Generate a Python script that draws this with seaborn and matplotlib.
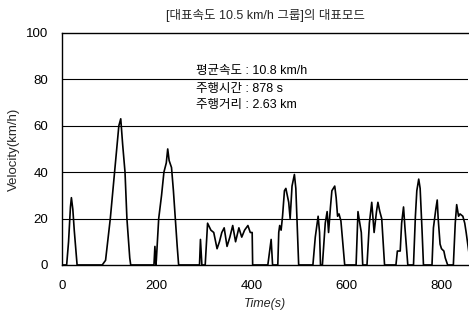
import matplotlib
matplotlib.use("Agg")
import matplotlib.pyplot as plt
import seaborn as sns
import pandas as pd

# speed trace (time in s, speed in km/h)
time_s = [0, 10, 14, 18, 20, 23, 26, 30, 32,
          85, 92, 102, 111, 120, 124, 128, 133, 137, 143, 145,
          194, 196, 198, 199, 204, 210, 215, 220, 223, 226, 231, 235, 239, 243, 246,
          290, 292, 295, 302, 307, 314, 320, 327, 332, 337, 342, 348, 354, 360, 366,
          373, 379, 385, 392, 397, 401, 402,
          434, 441, 444, 455, 457, 459, 462, 465, 469, 472, 478, 481, 485, 490, 493, 499,
          529, 534, 540, 543, 545,
          549, 555, 559, 562, 566, 569, 575, 578, 581, 584, 588, 596,
          620, 624, 627, 631, 634,
          643, 648, 653, 658, 663, 666, 670, 674, 677, 680,
          704, 707, 713, 716, 720, 723, 729,
          741, 745, 748, 752, 755, 759, 762,
          780, 783, 788, 791, 793, 797, 800, 805, 808, 813,
          825, 829, 832, 836, 839, 845, 849, 852, 858, 862]
speed_kmh = [0, 0, 10, 25, 29, 24, 15, 5, 0,
             0, 2, 20, 40, 60, 63, 52, 40, 20, 3, 0,
             0, 8, 0, 2, 20, 30, 40, 44, 50, 45, 42, 32, 20, 8, 0,
             0, 11, 0, 0, 18, 15, 14, 7, 10, 14, 16, 8, 12, 17, 10,
             16, 12, 15, 17, 14, 14, 0,
             0, 11, 0, 0, 14, 17, 15, 21, 32, 33, 27, 20, 34, 39, 33, 0,
             0, 12, 21, 14, 0,
             0, 18, 23, 14, 25, 32, 34, 29, 21, 22, 19, 0,
             0, 23, 19, 14, 0,
             0, 18, 27, 14, 23, 27, 23, 20, 10, 0,
             0, 6, 6, 18, 25, 16, 0,
             0, 21, 32, 37, 33, 15, 0,
             0, 16, 24, 28, 20, 9, 7, 6, 3, 0,
             0, 18, 26, 21, 22, 21, 18, 14, 5, 0]

title = "[대표속도 10.5 km/h 그룹]의 대표모드"
info_lines = ["평균속도 : 10.8 km/h", "주행시간 : 878 s", "주행거리 : 2.63 km"]
info_y = [83.5, 76, 69]

sns.set_theme(style="white")
plt.rcParams["font.family"] = ["Liberation Sans", "Noto Sans CJK KR", "DejaVu Sans"]

df = pd.DataFrame({"Time": time_s, "Velocity": speed_kmh})

fig = plt.figure(figsize=(4.69, 3.2), dpi=100)
ax = fig.add_axes([0.132, 0.172, 0.866, 0.725])

for y in [20, 40, 60, 80]:
    ax.axhline(y, color="black", lw=0.8, zorder=1)

sns.lineplot(data=df, x="Time", y="Velocity", color="black", lw=1.2, ax=ax, zorder=3)

ax.set_xlim(0, 856)
ax.set_ylim(0, 100)
ax.set_xticks([0, 200, 400, 600, 800])
ax.set_yticks([0, 20, 40, 60, 80, 100])
ax.tick_params(length=0, labelsize=9.5, colors="black")
ax.tick_params(axis="y", pad=10)
ax.tick_params(axis="x", pad=11)

for side in ["left", "top", "bottom"]:
    ax.spines[side].set_color("black")
    ax.spines[side].set_linewidth(1.0)
ax.spines["right"].set_visible(False)

ax.set_xlabel("Time(s)", fontsize=9, style="italic", labelpad=4)
ax.set_ylabel("Velocity(km/h)", fontsize=9.5, labelpad=4)
ax.set_title(title, fontsize=9, pad=10)

for txt, y in zip(info_lines, info_y):
    ax.text(283, y, txt, fontsize=9, va="center", ha="left", color="black")

plt.savefig("out.png", dpi=100)
plt.close()
